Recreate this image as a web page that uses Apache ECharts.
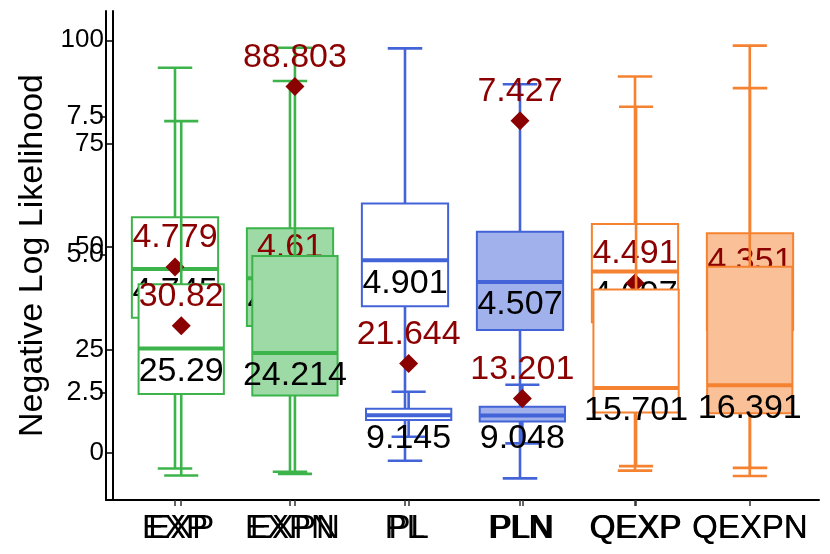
<!DOCTYPE html>
<html><head><meta charset="utf-8">
<script src="https://cdn.jsdelivr.net/npm/echarts@6/dist/echarts.min.js"></script>
<style>html,body{margin:0;padding:0;background:#fff}#c{width:830px;height:554px}</style>
</head><body><div id="c"></div>
<script>
const categories = ['EXP', 'EXPN', 'PL', 'PLN', 'QEXP', 'QEXPN'];

// Layer A (scale 0–100)
const lowA  = [-5.5, -5.1, 3.9, 2.3, -3.2, -5.6];
const q1A   = [14.3, 13.9, 8.0, 7.6, 9.8, 9.6];
const medA  = [25.29, 24.214, 9.145, 9.048, 15.701, 16.391];
const q3A   = [40.9, 47.7, 10.7, 11.2, 39.6, 45.1];
const highA = [80.4, 98.2, 14.8, 16.5, 83.9, 98.7];
const meanA = [30.82, 88.803, 21.644, 13.201, null, null];
const ticksA = [0, 25, 50, 75, 100];

// Layer B (scale 2.5–7.5)
const lowB  = [1.13, 1.07, 1.27, 0.95, 1.09, 1.14];
const q1B   = [3.86, 3.71, 4.07, 3.64, 3.78, 3.64];
const medB  = [4.745, 4.574, 4.901, 4.507, 4.697, 4.28];
const q3B   = [5.68, 5.48, 5.93, 5.42, 5.56, 5.39];
const highB = [8.39, 8.15, 8.74, 8.09, 8.23, 8.02];
const meanB = [4.779, 4.61, null, 7.427, 4.491, 4.351];
const ticksB = [2.5, 5.0, 7.5];

const lineColors = ['#3cb44b', '#3cb44b', '#4363d8', '#4363d8', '#f58231', '#f58231'];
const fillColors = ['#ffffff', '#9ddaa5', '#ffffff', '#a1b1eb', '#ffffff', '#fac098'];

const FONT = 'Liberation Sans, Arial, sans-serif';

function boxSeries(idx, low, q1, med, q3, high, z) {
  return {
    type: 'custom', xAxisIndex: idx, yAxisIndex: idx, z: z, clip: false,
    data: categories.map((c, i) => [i + 1, low[i], q1[i], med[i], q3[i], high[i]]),
    encode: { x: 0, y: [1, 2, 3, 4, 5] },
    renderItem(params, api) {
      const i = params.dataIndex;
      const x = api.value(0);
      const pLow = api.coord([x, api.value(1)]);
      const pQ1 = api.coord([x, api.value(2)]);
      const pMed = api.coord([x, api.value(3)]);
      const pQ3 = api.coord([x, api.value(4)]);
      const pHigh = api.coord([x, api.value(5)]);
      const unit = api.size([1, 0])[0];
      const hb = unit * 0.75 / 2;
      const hc = unit * 0.30 / 2;
      const cx = pMed[0];
      const col = lineColors[i];
      return {
        type: 'group',
        children: [
          { type: 'line', shape: { x1: cx, y1: pHigh[1], x2: cx, y2: pLow[1] }, style: { stroke: col, lineWidth: 2.6 } },
          { type: 'line', shape: { x1: cx - hc, y1: pHigh[1], x2: cx + hc, y2: pHigh[1] }, style: { stroke: col, lineWidth: 2.6 } },
          { type: 'line', shape: { x1: cx - hc, y1: pLow[1], x2: cx + hc, y2: pLow[1] }, style: { stroke: col, lineWidth: 2.6 } },
          { type: 'rect', shape: { x: cx - hb, y: pQ3[1], width: hb * 2, height: pQ1[1] - pQ3[1] }, style: { fill: fillColors[i], stroke: col, lineWidth: 2 } },
          { type: 'line', shape: { x1: cx - hb, y1: pMed[1], x2: cx + hb, y2: pMed[1] }, style: { stroke: col, lineWidth: 4 } },
          { type: 'text', x: cx, y: pMed[1] + 23, style: { text: String(api.value(3)), fill: '#000', font: '34px ' + FONT, align: 'center', verticalAlign: 'middle' } }
        ]
      };
    }
  };
}

function meanSeries(idx, mean, z) {
  const d = [];
  mean.forEach((m, i) => { if (m !== null) d.push([i + 1, m]); });
  return {
    type: 'scatter', xAxisIndex: idx, yAxisIndex: idx, z: z, clip: false,
    symbol: 'diamond', symbolSize: 19,
    itemStyle: { color: '#8b0000', opacity: 1 },
    label: { show: true, position: 'inside', offset: [0, -29], formatter: p => String(p.value[1]),
      color: '#8b0000', opacity: 1, fontSize: 34, fontFamily: FONT },
    emphasis: { disabled: true },
    data: d
  };
}

function xAxisDef(idx) {
  return {
    type: 'value', gridIndex: idx, min: 0.4, max: 6.6,
    splitLine: { show: false },
    axisLine: { show: true, onZero: false, lineStyle: { color: '#000', width: 2 } },
    axisTick: { show: true, length: 6, lineStyle: { color: '#333', width: 1.5 }, customValues: [1, 2, 3, 4, 5, 6] },
    axisLabel: { customValues: [1, 2, 3, 4, 5, 6], formatter: v => categories[Math.round(v) - 1] || '',
      color: '#000', fontSize: 33, fontFamily: FONT, margin: 12 }
  };
}

const chart = echarts.init(document.getElementById('c'));
chart.setOption({
  animation: false,
  backgroundColor: '#fff',
  grid: [
    { left: 113, right: 12, top: 11, bottom: 54 },
    { left: 106, right: 11, top: 11, bottom: 54 }
  ],
  xAxis: [xAxisDef(0), xAxisDef(1)],
  yAxis: [
    { type: 'value', gridIndex: 0, min: -11.42, max: 107.1,
      splitLine: { show: false },
      axisLine: { show: true, onZero: false, lineStyle: { color: '#000', width: 2 } },
      axisTick: { show: true, length: 7, lineStyle: { color: '#000', width: 1.5 }, customValues: ticksA },
      axisLabel: { customValues: ticksA, color: '#000', fontSize: 26, fontFamily: FONT, margin: 9 },
      name: 'Negative Log Likelihood', nameLocation: 'middle', nameGap: 62, nameRotate: 90,
      nameTextStyle: { fontSize: 34, fontFamily: FONT, color: '#000' }
    },
    { type: 'value', gridIndex: 1, min: 0.558, max: 9.417,
      splitLine: { show: false },
      axisLine: { show: true, onZero: false, lineStyle: { color: '#000', width: 2 } },
      axisTick: { show: true, length: 6, lineStyle: { color: '#000', width: 1.5 }, customValues: ticksB },
      axisLabel: { customValues: ticksB, formatter: v => v.toFixed(1), color: '#000', fontSize: 27, fontFamily: FONT, margin: 2 }
    }
  ],
  series: [
    boxSeries(1, lowB, q1B, medB, q3B, highB, 2),
    meanSeries(1, meanB, 3),
    boxSeries(0, lowA, q1A, medA, q3A, highA, 5),
    meanSeries(0, meanA, 6)
  ]
});
</script></body></html>
